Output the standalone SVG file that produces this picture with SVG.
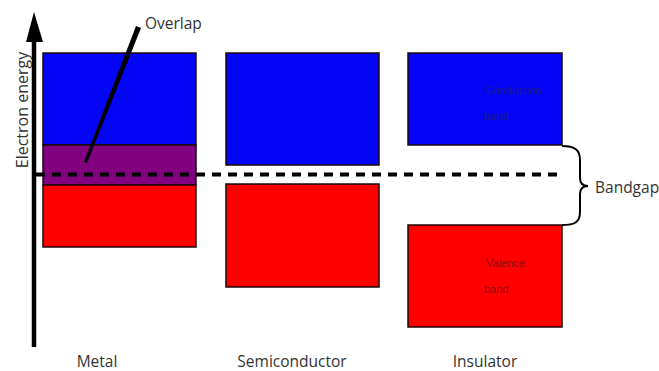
<svg xmlns="http://www.w3.org/2000/svg" width="659" height="371" viewBox="0 0 659 371">
<style>
.band{stroke:#1a0a0a;stroke-width:1.5}
.cb{fill:#0505f5}
.vb{fill:#ff0000}
.ov{fill:#800080}
.lbl{font-family:"Open Sans","Liberation Sans",sans-serif;font-size:15.5px;fill:#333}
.small{font-family:"Liberation Sans",sans-serif;font-size:11px}
</style>
<rect width="659" height="371" fill="#fff"/>
<g id="axis">
<line x1="34" y1="38" x2="34" y2="347" stroke="#000" stroke-width="4.5"/>
<polygon points="34,12 26,42 43,42" fill="#000"/>
<text class="lbl" transform="translate(28,110) rotate(-90)" text-anchor="middle" style="font-size:16px">Electron energy</text>
</g>
<g id="metal">
<rect class="band cb" x="43" y="53" width="153" height="92"/>
<rect class="band ov" x="43" y="145" width="153" height="40"/>
<rect class="band vb" x="43" y="185" width="153" height="62"/>
<text class="lbl" x="97" y="367" text-anchor="middle">Metal</text>
</g>
<g id="semiconductor">
<rect class="band cb" x="226" y="53" width="153" height="112"/>
<rect class="band vb" x="226" y="184" width="153" height="103"/>
<text class="lbl" x="292" y="367" text-anchor="middle">Semiconductor</text>
</g>
<g id="insulator">
<rect class="band cb" x="408" y="53" width="154" height="92"/>
<rect class="band vb" x="408" y="225" width="154" height="102"/>
<text class="small" x="486" y="94" fill="#1a1a8c">Conduction</text>
<text class="small" x="484" y="120" fill="#1a1a8c">band</text>
<text class="small" x="486" y="267" fill="#8c1010">Valence</text>
<text class="small" x="484" y="293" fill="#8c1010">band</text>
<text class="lbl" x="485" y="367" text-anchor="middle">Insulator</text>
</g>
<g id="connectors">
<line x1="36" y1="174.5" x2="562" y2="174.5" stroke="#000" stroke-width="4" stroke-dasharray="9 7"/>
<path d="M562,146 C575,146 580,150 580,160 L580,178 C580,183 583,186 588,186 C583,186 580,189 580,194 L580,212 C580,222 575,225 562,225" fill="none" stroke="#000" stroke-width="2"/>
<polygon points="136,26 141,28 87,163 84,162" fill="#000"/>
</g>
<g id="labels">
<text class="lbl" x="145" y="29">Overlap</text>
<text class="lbl" x="595" y="193">Bandgap</text>
</g>
</svg>
